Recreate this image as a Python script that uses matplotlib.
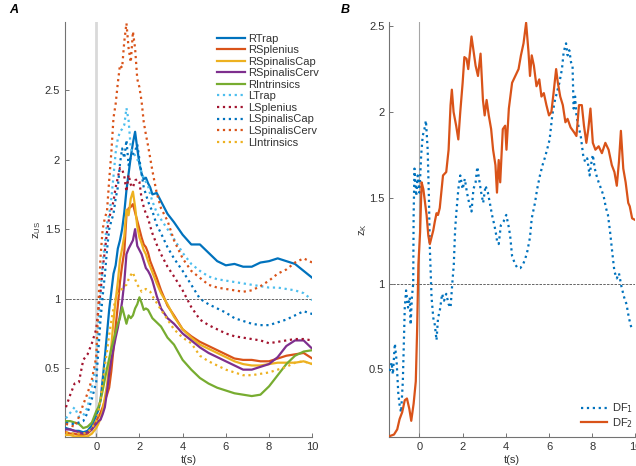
#
# plot.py - muscle z-scores (panel A) and discriminant factors (panel B) against time.
#
import matplotlib
matplotlib.use('Agg')
import matplotlib.pyplot as plt

plt.rcParams['font.family'] = ['Liberation Sans', 'DejaVu Sans']
plt.rcParams['font.size'] = 8

# Time grid used for every muscle series in panel A (s)
t_a = [-1.4, -1.2, -1.0, -0.8, -0.6, -0.4, -0.2,
       0.0, 0.1, 0.2, 0.3, 0.4, 0.5, 0.6, 0.7, 0.8, 0.9, 1.0, 1.1, 1.2, 1.3,
       1.4, 1.5, 1.6, 1.7, 1.8, 1.9, 2.0, 2.1, 2.2, 2.3, 2.4, 2.5, 2.6,
       2.8, 3.0, 3.3, 3.6,
       4.0, 4.4, 4.8, 5.2, 5.6, 6.0, 6.4, 6.8, 7.2, 7.6, 8.0, 8.4, 8.8, 9.2, 9.6, 10.0]

r_trap = [0.07, 0.06, 0.05, 0.05, 0.04, 0.05, 0.09,
          0.16, 0.20, 0.27, 0.42, 0.58, 0.75, 0.92, 1.05, 1.18, 1.24, 1.36, 1.42, 1.50, 1.62,
          1.78, 1.90, 2.02, 2.12, 2.20, 2.08, 1.97, 1.90, 1.86, 1.87, 1.83, 1.80, 1.75,
          1.76, 1.70, 1.61, 1.55,
          1.46, 1.39, 1.39, 1.33, 1.27, 1.24, 1.25, 1.23, 1.23, 1.26, 1.27, 1.29, 1.27, 1.25, 1.20, 1.15]
r_splenius = [0.04, 0.03, 0.03, 0.02, 0.02, 0.03, 0.06,
              0.12, 0.15, 0.18, 0.22, 0.27, 0.31, 0.36, 0.48, 0.64, 0.80, 0.95, 1.12, 1.24, 1.34,
              1.60, 1.65, 1.66, 1.68, 1.62, 1.56, 1.50, 1.44, 1.39, 1.37, 1.33, 1.27, 1.23,
              1.15, 1.06, 0.95, 0.88,
              0.78, 0.73, 0.69, 0.66, 0.63, 0.60, 0.57, 0.56, 0.56, 0.55, 0.55, 0.57, 0.59, 0.60, 0.61, 0.57]
r_spinalis_cap = [0.02, 0.02, 0.01, 0.01, 0.01, 0.01, 0.03,
                  0.07, 0.10, 0.14, 0.20, 0.29, 0.38, 0.52, 0.66, 0.84, 0.99, 1.12, 1.28, 1.36, 1.45,
                  1.64, 1.60, 1.72, 1.77, 1.66, 1.52, 1.44, 1.40, 1.35, 1.32, 1.27, 1.23, 1.19,
                  1.11, 1.04, 0.96, 0.87,
                  0.78, 0.72, 0.67, 0.64, 0.61, 0.58, 0.55, 0.53, 0.52, 0.52, 0.53, 0.54, 0.54, 0.54, 0.55, 0.53]
r_spinalis_cerv = [0.06, 0.06, 0.05, 0.04, 0.03, 0.04, 0.06,
                   0.10, 0.12, 0.13, 0.17, 0.22, 0.33, 0.46, 0.56, 0.64, 0.72, 0.79, 0.88, 0.98, 1.12,
                   1.32, 1.36, 1.39, 1.42, 1.50, 1.38, 1.35, 1.32, 1.27, 1.22, 1.20, 1.17, 1.13,
                   1.02, 0.93, 0.86, 0.82,
                   0.75, 0.70, 0.65, 0.61, 0.58, 0.55, 0.52, 0.49, 0.49, 0.51, 0.53, 0.58, 0.66, 0.70, 0.70, 0.64]
r_intrinsics = [0.12, 0.12, 0.11, 0.10, 0.07, 0.08, 0.11,
                0.19, 0.22, 0.27, 0.34, 0.42, 0.50, 0.57, 0.64, 0.70, 0.76, 0.82, 0.86, 0.94, 0.88,
                0.82, 0.88, 0.86, 0.88, 0.93, 0.96, 1.01, 0.97, 0.92, 0.93, 0.92, 0.89, 0.86,
                0.83, 0.80, 0.72, 0.67,
                0.56, 0.49, 0.43, 0.39, 0.36, 0.34, 0.32, 0.31, 0.30, 0.31, 0.37, 0.45, 0.53, 0.59, 0.62, 0.63]
l_trap = [0.14, 0.18, 0.22, 0.15, 0.16, 0.22, 0.36,
          0.55, 0.78, 1.03, 1.25, 1.40, 1.54, 1.60, 1.72, 1.88, 2.05, 2.15, 2.20, 2.22, 2.25,
          2.37, 2.28, 2.08, 2.05, 2.03, 2.00, 1.98, 1.90, 1.87, 1.84, 1.81, 1.75, 1.70,
          1.62, 1.57, 1.50, 1.43,
          1.33, 1.25, 1.20, 1.16, 1.14, 1.13, 1.12, 1.11, 1.10, 1.09, 1.08, 1.08, 1.07, 1.06, 1.04, 0.99]
l_splenius = [0.22, 0.31, 0.39, 0.40, 0.56, 0.60, 0.68,
              0.78, 0.92, 1.05, 1.22, 1.34, 1.48, 1.58, 1.64, 1.70, 1.80, 1.87, 1.94, 1.93, 1.88,
              1.77, 1.89, 1.82, 1.80, 1.85, 1.86, 1.84, 1.72, 1.66, 1.61, 1.58, 1.52, 1.47,
              1.39, 1.32, 1.23, 1.16,
              1.06, 0.94, 0.85, 0.81, 0.78, 0.75, 0.73, 0.72, 0.71, 0.70, 0.68, 0.69, 0.70, 0.71, 0.71, 0.70]
l_spinalis_cap = [0.11, 0.10, 0.10, 0.11, 0.12, 0.18, 0.28,
                  0.40, 0.63, 0.85, 1.02, 1.17, 1.35, 1.50, 1.56, 1.61, 1.72, 1.80, 1.97, 2.08, 2.01,
                  2.14, 1.96, 2.02, 2.04, 2.06, 2.11, 2.00, 1.90, 1.80, 1.75, 1.70, 1.66, 1.63,
                  1.53, 1.47, 1.37, 1.29,
                  1.20, 1.10, 1.00, 0.96, 0.93, 0.90, 0.86, 0.84, 0.82, 0.81, 0.81, 0.83, 0.85, 0.88, 0.91, 0.89]
l_spinalis_cerv = [0.10, 0.09, 0.08, 0.15, 0.24, 0.32, 0.42,
                   0.58, 0.95, 1.30, 1.50, 1.58, 1.63, 1.85, 2.05, 2.30, 2.40, 2.55, 2.68, 2.66, 2.85,
                   2.98, 2.80, 2.70, 2.92, 2.80, 2.58, 2.52, 2.42, 2.27, 2.18, 2.10, 2.01, 1.92,
                   1.76, 1.65, 1.56, 1.42,
                   1.29, 1.20, 1.15, 1.10, 1.08, 1.07, 1.06, 1.05, 1.06, 1.09, 1.13, 1.18, 1.21, 1.26, 1.29, 1.26]
l_intrinsics = [0.04, 0.03, 0.03, 0.03, 0.03, 0.04, 0.07,
                0.12, 0.18, 0.28, 0.40, 0.52, 0.62, 0.74, 0.84, 0.93, 1.00, 1.04, 1.06, 1.07, 1.09,
                1.10, 1.14, 1.17, 1.19, 1.14, 1.10, 1.08, 1.05, 1.06, 1.07, 1.06, 1.05, 1.02,
                0.97, 0.92, 0.85, 0.78,
                0.72, 0.68, 0.59, 0.55, 0.52, 0.49, 0.47, 0.45, 0.45, 0.46, 0.47, 0.49, 0.51, 0.54, 0.55, 0.53]

muscle_names = ['RTrap', 'RSplenius', 'RSpinalisCap', 'RSpinalisCerv', 'RIntrinsics',
                'LTrap', 'LSplenius', 'LSpinalisCap', 'LSpinalisCerv', 'LIntrinsics']
muscle_values = [r_trap, r_splenius, r_spinalis_cap, r_spinalis_cerv, r_intrinsics,
                 l_trap, l_splenius, l_spinalis_cap, l_spinalis_cerv, l_intrinsics]
muscle_colors = ['#0072BD', '#D95319', '#EDB120', '#7E2F8E', '#77AC30',
                 '#4DBEEE', '#A2142F', '#0072BD', '#D95319', '#EDB120']
muscle_styles = ['-'] * 5 + [':'] * 5

# Panel B: discriminant factors
t_df1 = [-1.38, -1.29, -1.23, -1.14, -1.06, -0.98, -0.91, -0.85, -0.77, -0.68, -0.62, -0.53,
         -0.45, -0.41, -0.35, -0.29, -0.27, -0.23, -0.15, -0.08, 0.0, 0.08, 0.15, 0.23, 0.3,
         0.38, 0.44, 0.48, 0.56, 0.64, 0.71, 0.79, 0.86, 0.94, 1.05, 1.14, 1.24, 1.35, 1.44,
         1.52, 1.59, 1.65, 1.7, 1.8, 1.89, 2.0, 2.1, 2.2, 2.3, 2.41, 2.5, 2.6, 2.68, 2.76,
         2.86, 2.95, 3.06, 3.17, 3.26, 3.36, 3.47, 3.56, 3.59, 3.67, 3.77, 3.89, 4.02, 4.12,
         4.2, 4.29, 4.44, 4.55, 4.67, 4.79, 4.89, 5.0, 5.12, 5.2, 5.35, 5.45, 5.58, 5.7, 5.8,
         5.91, 6.03, 6.15, 6.26, 6.36, 6.48, 6.6, 6.68, 6.79, 6.86, 6.94, 7.02, 7.09, 7.14,
         7.21, 7.27, 7.36, 7.47, 7.58, 7.67, 7.77, 7.88, 7.97, 8.03, 8.12, 8.2, 8.3, 8.42,
         8.53, 8.64, 8.73, 8.83, 8.94, 9.03, 9.14, 9.24, 9.36, 9.48, 9.59, 9.7, 9.82, 9.9]
df1 = [0.49, 0.54, 0.47, 0.65, 0.55, 0.36, 0.28, 0.25, 0.43, 0.86, 0.96, 0.86,
       0.92, 0.76, 0.92, 1.00, 1.40, 1.67, 1.51, 1.63, 1.53, 1.75, 1.86, 1.90, 1.95,
       1.78, 1.49, 1.21, 0.92, 0.80, 0.76, 0.67, 0.80, 0.84, 0.94, 0.90, 0.94, 0.88, 0.86,
       1.00, 1.11, 1.31, 1.40, 1.55, 1.63, 1.55, 1.61, 1.53, 1.47, 1.42, 1.55, 1.59, 1.68, 1.61,
       1.53, 1.47, 1.57, 1.53, 1.47, 1.40, 1.34, 1.28, 1.25, 1.23, 1.34, 1.36, 1.40, 1.34,
       1.28, 1.16, 1.11, 1.09, 1.09, 1.11, 1.14, 1.19, 1.27, 1.38, 1.47, 1.55, 1.63, 1.69, 1.73,
       1.78, 1.84, 1.98, 2.06, 2.11, 2.17, 2.25, 2.35, 2.40, 2.33, 2.36, 2.29, 2.27, 2.02,
       2.09, 1.98, 1.92, 1.86, 1.75, 1.71, 1.73, 1.63, 1.71, 1.75, 1.67, 1.63, 1.59, 1.55,
       1.51, 1.44, 1.40, 1.30, 1.17, 1.07, 1.03, 1.06, 0.98, 0.92, 0.88, 0.80, 0.74, 0.73]

t_df2 = [-1.4, -1.18, -1.03, -0.92, -0.8, -0.68, -0.58, -0.47, -0.38, -0.27, -0.17, -0.11,
         -0.05, 0.03, 0.1, 0.18, 0.26, 0.33, 0.41, 0.48, 0.56, 0.64, 0.71, 0.79, 0.86, 0.94,
         1.09, 1.24, 1.35, 1.44, 1.5, 1.58, 1.7, 1.8, 1.89, 2.0, 2.08, 2.18, 2.26, 2.35, 2.41,
         2.5, 2.6, 2.71, 2.83, 2.94, 3.02, 3.11, 3.21, 3.32, 3.41, 3.52, 3.59, 3.67, 3.74,
         3.86, 3.97, 4.03, 4.14, 4.29, 4.44, 4.59, 4.7, 4.82, 4.94, 5.05, 5.12, 5.2, 5.3,
         5.42, 5.55, 5.65, 5.76, 5.88, 6.0, 6.11, 6.21, 6.33, 6.41, 6.52, 6.64, 6.76, 6.86,
         7.0, 7.17, 7.27, 7.39, 7.52, 7.62, 7.73, 7.82, 7.92, 8.03, 8.15, 8.3, 8.45, 8.61,
         8.76, 8.91, 9.03, 9.14, 9.24, 9.33, 9.44, 9.55, 9.67, 9.74, 9.85, 10.0]
df2 = [0.11, 0.12, 0.15, 0.21, 0.25, 0.32, 0.33, 0.27, 0.20, 0.30, 0.43, 0.72,
       1.11, 1.30, 1.59, 1.55, 1.47, 1.40, 1.28, 1.23, 1.27, 1.31, 1.36, 1.41, 1.40, 1.44,
       1.63, 1.65, 1.78, 2.04, 2.13, 2.00, 1.92, 1.84, 2.00, 2.17, 2.32, 2.31, 2.25, 2.36, 2.44,
       2.36, 2.27, 2.21, 2.34, 2.07, 1.98, 2.07, 1.98, 1.90, 1.78, 1.69, 1.53, 1.72, 1.59,
       1.90, 1.92, 1.78, 2.02, 2.17, 2.21, 2.25, 2.33, 2.40, 2.52, 2.35, 2.21, 2.33, 2.27,
       2.15, 2.19, 2.09, 2.11, 2.04, 1.98, 2.00, 2.11, 2.25, 2.17, 2.09, 2.04, 1.94, 1.96,
       1.91, 1.88, 1.86, 2.04, 2.04, 1.92, 1.82, 1.90, 2.02, 1.82, 1.78, 1.80, 1.76, 1.82,
       1.78, 1.69, 1.65, 1.57, 1.71, 1.89, 1.67, 1.59, 1.47, 1.45, 1.38, 1.37]

x_ticks = [0, 2, 4, 6, 8, 10]
y_ticks = [0.5, 1, 1.5, 2, 2.5]

fig = plt.figure(figsize=(6.36, 4.66), dpi=100)
ax_a = fig.add_axes([0.102, 0.062, 0.389, 0.891])
ax_b = fig.add_axes([0.612, 0.062, 0.387, 0.891])


def style_axis(ax):
    # MATLAB-like look: only left/bottom axes, ticks pointing in
    for side in ['top', 'right']:
        ax.spines[side].set_visible(False)
    for side in ['left', 'bottom']:
        ax.spines[side].set_color('0.45')
        ax.spines[side].set_linewidth(0.8)
    ax.tick_params(direction='in', length=3, width=0.7, color='0.45',
                   labelcolor='0.2', labelsize=8)
    ax.set_xticks(x_ticks)
    ax.set_yticks(y_ticks)
    ax.set_yticklabels(['0.5', '1', '1.5', '2', '2.5'])
    ax.set_xlabel('t(s)', color='0.2', labelpad=2)


# Panel A
ax_a.axvline(0, color='#d9d9d9', lw=2, zorder=1)
ax_a.axhline(1, color='0.3', lw=0.6, ls=(0, (3, 1.5)), zorder=1)
for name, vals, col, ls in zip(muscle_names, muscle_values, muscle_colors, muscle_styles):
    ax_a.plot(t_a, vals, color=col, ls=ls, lw=1.6, label=name, zorder=3)
ax_a.set_xlim(-1.45, 10)
ax_a.set_ylim(0.005, 2.99)
style_axis(ax_a)
ax_a.set_ylabel('z$_\\mathregular{US}$', color='0.2', labelpad=1)
ax_a.legend(loc='upper left', bbox_to_anchor=(0.341, 0.928), bbox_transform=fig.transFigure,
            frameon=False, borderpad=0, borderaxespad=0, labelspacing=0.14,
            handlelength=2.5, handletextpad=0.3, fontsize=8, labelcolor='0.2')

# Panel B
ax_b.axvline(0, color='#a6a6a6', lw=0.8, zorder=1)
ax_b.axhline(1, color='0.3', lw=0.6, ls=(0, (3, 1.5)), zorder=1)
ax_b.plot(t_df1, df1, color='#0072BD', ls=':', lw=1.6, label='DF$_1$', zorder=3)
ax_b.plot(t_df2, df2, color='#D95319', ls='-', lw=1.6, label='DF$_2$', zorder=3)
ax_b.set_xlim(-1.4, 10)
ax_b.set_ylim(0.105, 2.525)
style_axis(ax_b)
ax_b.set_ylabel('z$_\\mathregular{K}$', color='0.2', labelpad=0)
ax_b.legend(loc='lower right', bbox_to_anchor=(0.995, 0.078), bbox_transform=fig.transFigure,
            frameon=False, borderpad=0, borderaxespad=0, labelspacing=0.05,
            handlelength=2.4, handletextpad=0.4, fontsize=8, labelcolor='0.2')

# Panel letters
fig.text(0.014, 0.978, 'A', fontsize=9, weight='bold', style='italic', va='center')
fig.text(0.536, 0.978, 'B', fontsize=9, weight='bold', style='italic', va='center')

plt.savefig('out.png', dpi=100)
